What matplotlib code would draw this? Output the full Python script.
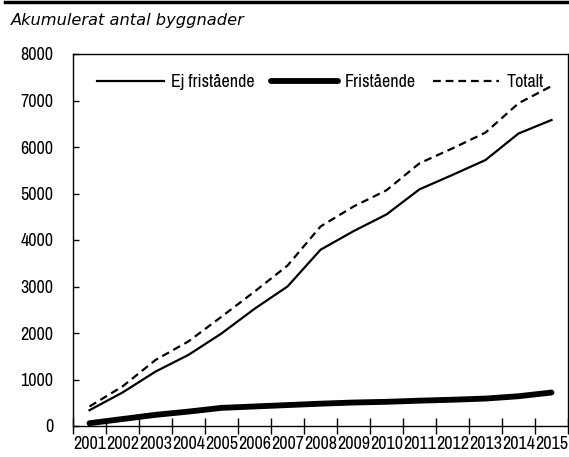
import matplotlib
matplotlib.use("Agg")
import matplotlib.pyplot as plt
from matplotlib import font_manager
from matplotlib.lines import Line2D

# Data
years = ["2001", "2002", "2003", "2004", "2005", "2006", "2007", "2008",
         "2009", "2010", "2011", "2012", "2013", "2014", "2015"]
ej_fristaende = [340, 720, 1170, 1530, 1990, 2520, 3000, 3790,
                 4190, 4550, 5090, 5400, 5720, 6290, 6580]
fristaende = [60, 150, 240, 310, 390, 420, 450, 480,
              505, 520, 545, 565, 590, 640, 720]
totalt = [420, 850, 1420, 1820, 2350, 2890, 3450, 4290,
          4720, 5070, 5650, 5970, 6310, 6940, 7310]

# Font: first narrow sans that is installed
names = {f.name for f in font_manager.fontManager.ttflist}
narrow = "DejaVu Sans"
for cand in ["Arial Narrow", "Liberation Sans Narrow", "Archivo Narrow",
             "PT Sans Narrow", "Roboto Condensed"]:
    if cand in names:
        narrow = cand
        break
plt.rcParams["font.family"] = [narrow, "DejaVu Sans"]

fig = plt.figure(figsize=(5.69, 4.57), dpi=100)
ax = fig.add_axes([73 / 569, 31 / 457, 495 / 569, 372 / 457])

x = list(range(len(years)))
ax.plot(x, ej_fristaende, color="black", lw=1.6, label="Ej fristående")
ax.plot(x, fristaende, color="black", lw=4.2, solid_capstyle="round",
        label="Fristående")
ax.plot(x, totalt, color="black", lw=1.6, ls=(0, (3.5, 2.2)), label="Totalt")

ax.set_xlim(-0.5, len(years) - 0.5)
ax.set_ylim(0, 8000)
ax.set_yticks(range(0, 8001, 1000))

# category borders carry the tick marks, labels sit in the middle
ax.set_xticks([i - 0.5 for i in range(len(years) + 1)])
ax.set_xticklabels([])
ax.set_xticks(x, minor=True)
ax.set_xticklabels(years, minor=True)
ax.tick_params(axis="x", which="major", direction="inout", length=11, width=1)
ax.tick_params(axis="x", which="minor", length=0, pad=7, labelsize=13)
ax.tick_params(axis="y", direction="in", length=4, width=1, pad=14, labelsize=13)

for s in ax.spines.values():
    s.set_linewidth(1.0)

ax.legend(loc="upper center", bbox_to_anchor=(0.5, 0.99), ncol=3,
          frameon=False, fontsize=13, handlelength=3.7,
          handletextpad=0.4, columnspacing=0.9)

fig.text(11 / 569, 1 - 21 / 457, "Akumulerat antal byggnader",
         family=["DejaVu Sans"], style="italic",
         fontsize=11.7, va="center", ha="left")

# black bar at the very top
fig.add_artist(Line2D([5 / 569, 1], [1 - 1.5 / 457] * 2, color="black", lw=2.5,
                      transform=fig.transFigure))

fig.savefig("out.png", dpi=100)
